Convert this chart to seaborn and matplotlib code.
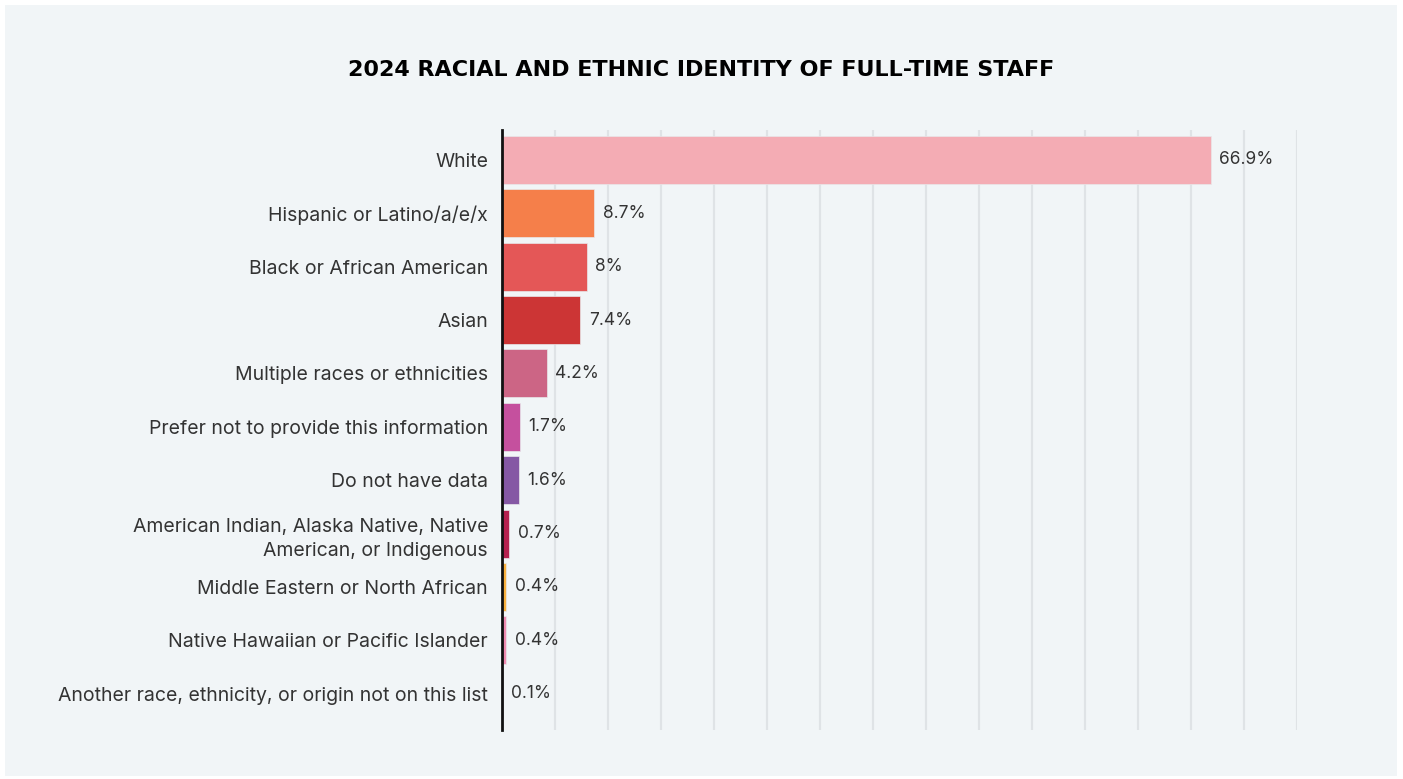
import matplotlib
matplotlib.use("Agg")
import matplotlib.pyplot as plt
from matplotlib.patches import Rectangle
import seaborn as sns
import pandas as pd

categories = [
    "White",
    "Hispanic or Latino/a/e/x",
    "Black or African American",
    "Asian",
    "Multiple races or ethnicities",
    "Prefer not to provide this information",
    "Do not have data",
    "American Indian, Alaska Native, Native\nAmerican, or Indigenous",
    "Middle Eastern or North African",
    "Native Hawaiian or Pacific Islander",
    "Another race, ethnicity, or origin not on this list",
]
values = [66.9, 8.7, 8.0, 7.4, 4.2, 1.7, 1.6, 0.7, 0.4, 0.4, 0.1]
value_labels = ["66.9%", "8.7%", "8%", "7.4%", "4.2%", "1.7%", "1.6%", "0.7%", "0.4%", "0.4%", "0.1%"]
bar_colors = [
    "#f4acb4", "#f57f4a", "#e45757", "#cc3535", "#cc6585", "#c5509e",
    "#8558a4", "#b5214f", "#f9b13f", "#f08bb1", "#c0248a",
]

panel_bg = "#f1f5f7"
text_color = "#333333"

sns.set_theme(style="white")
plt.rcParams["font.family"] = ["Inter", "DejaVu Sans"]

df = pd.DataFrame({"category": categories, "value": values})

fig = plt.figure(figsize=(14.03, 7.79), dpi=100)
fig.patch.set_facecolor("white")
fig.patches.append(Rectangle((5 / 1403, 3 / 779), 1392 / 1403, 771 / 779,
                             transform=fig.transFigure, facecolor=panel_bg,
                             edgecolor="none", zorder=-10))

ax = fig.add_axes([502 / 1403, 49 / 779, 795 / 1403, 600 / 779])
ax.set_facecolor(panel_bg)
ax.patch.set_alpha(0)

sns.barplot(data=df, x="value", y="category", hue="category", palette=bar_colors,
            saturation=1, legend=False, orient="h", width=0.9, ax=ax,
            edgecolor="#e8e8ea", linewidth=0.5, zorder=3)

ax.set_xlim(0, 75)
ax.set_ylim(10.68, -0.56)
ax.set_xticks(range(5, 80, 5))
ax.xaxis.grid(True, color="#dfe3e6", linewidth=1.6, zorder=0)
ax.set_axisbelow(True)
ax.tick_params(axis="x", length=0, labelbottom=False)
ax.tick_params(axis="y", length=0, pad=10, labelsize=14, labelcolor=text_color)
ax.set_xlabel("")
ax.set_ylabel("")
for lbl in ax.get_yticklabels():
    lbl.set_horizontalalignment("right")
    lbl.set_multialignment("right")
    lbl.set_linespacing(1.45)

for side in ["top", "right", "bottom"]:
    ax.spines[side].set_visible(False)
ax.spines["left"].set_color("#111111")
ax.spines["left"].set_linewidth(2)
ax.spines["left"].set_zorder(5)

for i, (v, lab) in enumerate(zip(values, value_labels)):
    ax.annotate(lab, xy=(v, i), xytext=(6, 0), textcoords="offset points",
                ha="left", va="center", fontsize=12.5, color=text_color)

fig.text(701 / 1403, 1 - 70 / 779, "2024 RACIAL AND ETHNIC IDENTITY OF FULL-TIME STAFF",
         ha="center", va="center", fontsize=16, fontweight="heavy",
         family=["DejaVu Sans"], color="#000000")

fig.savefig("out.png", dpi=100, facecolor="white")
